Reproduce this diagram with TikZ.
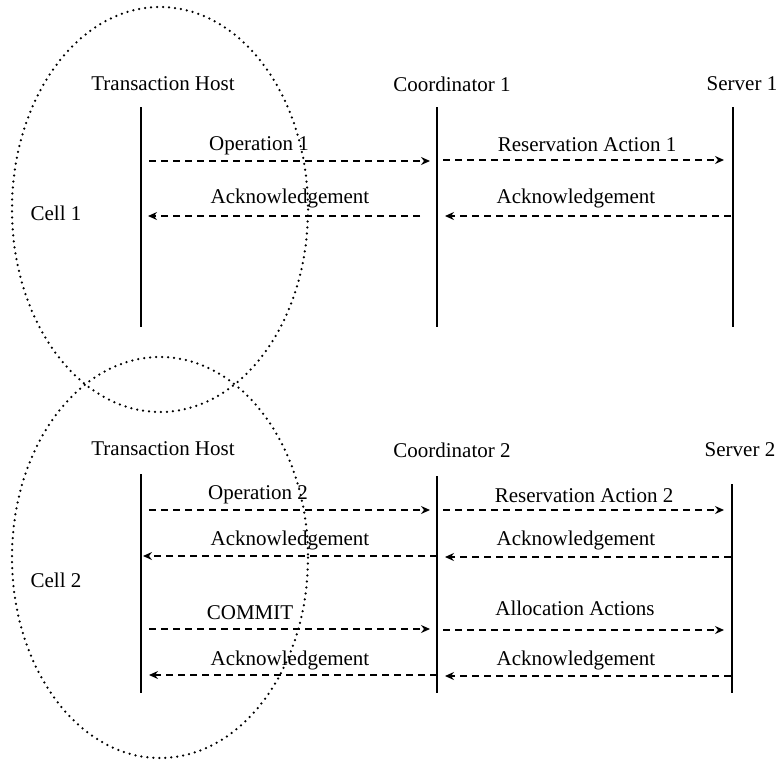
\documentclass[tikz,border=0pt]{standalone}
\usepackage{fontspec}
\setmainfont{Liberation Serif}
\usetikzlibrary{arrows.meta}
\begin{document}
\begin{tikzpicture}[x=1pt,y=-1pt,
  lbl/.style={font=\fontsize{21}{24}\selectfont, inner sep=0pt},
  lifeline/.style={line width=2.4pt},
  msg/.style={line width=1.7pt, dash pattern=on 7pt off 5pt, -{Stealth[length=9pt,width=8pt,inset=3pt]}},
  cell/.style={line width=2.5pt, dash pattern=on 0pt off 6pt, line cap=round}]
\useasboundingbox (0,0) rectangle (782,763);
% cells
\draw[cell] (160,209.5) ellipse [x radius=148, y radius=202.5];
\draw[cell] (160,557.5) ellipse [x radius=148, y radius=200.5];
\node[lbl] (cell1) at (56,213) {Cell 1};
\node[lbl] (cell2) at (56,580) {Cell 2};

% ---------- top section ----------
\node[lbl] (th1) at (163,84) {Transaction Host};
\node[lbl] (co1) at (452,84) {Coordinator 1};
\node[lbl] (sv1) at (742,84) {Server 1};
\coordinate (th1t) at (141,107); \coordinate (th1b) at (141,327);
\coordinate (co1t) at (437,107); \coordinate (co1b) at (437,327);
\coordinate (sv1t) at (733,107); \coordinate (sv1b) at (733,327);
\draw[lifeline] (th1t) -- (th1b);
\draw[lifeline] (co1t) -- (co1b);
\draw[lifeline] (sv1t) -- (sv1b);

\coordinate (m1a) at (149,161); \coordinate (m1b) at (430,161);
\coordinate (m2a) at (443,160); \coordinate (m2b) at (724,160);
\coordinate (m3a) at (420,216); \coordinate (m3b) at (148,216);
\coordinate (m4a) at (731,216); \coordinate (m4b) at (445,216);
\draw[msg] (m1a) -- (m1b);
\draw[msg] (m2a) -- (m2b);
\draw[msg] (m3a) -- (m3b);
\draw[msg] (m4a) -- (m4b);
\node[lbl] (l1) at (259,146) {Operation 1};
\node[lbl] (l2) at (587,145) {Reservation Action 1};
\node[lbl] (l3) at (290,198) {Acknowledgement};
\node[lbl] (l4) at (576,198) {Acknowledgement};

% ---------- bottom section ----------
\node[lbl] (th2) at (163,449) {Transaction Host};
\node[lbl] (co2) at (452,450) {Coordinator 2};
\node[lbl] (sv2) at (740,450) {Server 2};
\coordinate (th2t) at (141,474); \coordinate (th2b) at (141,693);
\coordinate (co2t) at (437,476); \coordinate (co2b) at (437,693);
\coordinate (sv2t) at (732,484); \coordinate (sv2b) at (732,693);
\draw[lifeline] (th2t) -- (th2b);
\draw[lifeline] (co2t) -- (co2b);
\draw[lifeline] (sv2t) -- (sv2b);

\coordinate (n1a) at (149,510); \coordinate (n1b) at (430,510);
\coordinate (n2a) at (443,510); \coordinate (n2b) at (724,510);
\coordinate (n3a) at (437,556); \coordinate (n3b) at (143,556);
\coordinate (n4a) at (731,557); \coordinate (n4b) at (445,557);
\coordinate (n5a) at (149,629); \coordinate (n5b) at (430,629);
\coordinate (n6a) at (443,630); \coordinate (n6b) at (724,630);
\coordinate (n7a) at (437,675); \coordinate (n7b) at (149,675);
\coordinate (n8a) at (731,676); \coordinate (n8b) at (445,676);
\draw[msg] (n1a) -- (n1b);
\draw[msg] (n2a) -- (n2b);
\draw[msg] (n3a) -- (n3b);
\draw[msg] (n4a) -- (n4b);
\draw[msg] (n5a) -- (n5b);
\draw[msg] (n6a) -- (n6b);
\draw[msg] (n7a) -- (n7b);
\draw[msg] (n8a) -- (n8b);
\node[lbl] (k1) at (258,495) {Operation 2};
\node[lbl] (k2) at (584,496) {Reservation Action 2};
\node[lbl] (k3) at (290,540) {Acknowledgement};
\node[lbl] (k4) at (576,540) {Acknowledgement};
\node[lbl] (k5) at (250,613) {COMMIT};
\node[lbl] (k6) at (575,608) {Allocation Actions};
\node[lbl] (k7) at (290,660) {Acknowledgement};
\node[lbl] (k8) at (576,660) {Acknowledgement};
\end{tikzpicture}
\end{document}
